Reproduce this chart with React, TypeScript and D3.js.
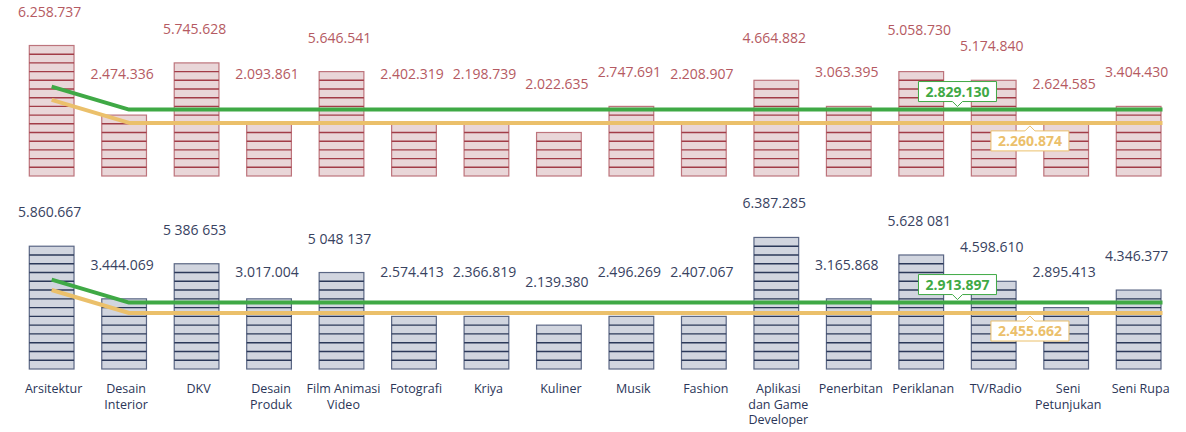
import React from "react";
import * as d3 from "d3";

const categories = [
  "Arsitektur",
  "Desain\nInterior",
  "DKV",
  "Desain\nProduk",
  "Film Animasi\nVideo",
  "Fotografi",
  "Kriya",
  "Kuliner",
  "Musik",
  "Fashion",
  "Aplikasi\ndan Game\nDeveloper",
  "Penerbitan",
  "Periklanan",
  "TV/Radio",
  "Seni\nPetunjukan",
  "Seni Rupa",
];

const topLabels = [
  "6.258.737", "2.474.336", "5.745.628", "2.093.861", "5.646.541", "2.402.319",
  "2.198.739", "2.022.635", "2.747.691", "2.208.907", "4.664.882", "3.063.395",
  "5.058.730", "5.174.840", "2.624.585", "3.404.430",
];
const bottomLabels = [
  "5.860.667", "3.444.069", "5 386 653", "3.017.004", "5 048 137", "2.574.413",
  "2.366.819", "2.139.380", "2.496.269", "2.407.067", "6.387.285", "3.165.868",
  "5.628 081", "4.598.610", "2.895.413", "4.346.377",
];

// number of stacked pictogram cells drawn per bar
const topCells = [15, 7, 13, 6, 12, 6, 6, 5, 8, 6, 11, 8, 12, 11, 6, 8];
const bottomCells = [14, 8, 12, 8, 11, 6, 6, 5, 6, 6, 15, 8, 13, 10, 7, 9];

const topAverage = 2829130;
const topMedian = 2260874;
const bottomAverage = 2913897;
const bottomMedian = 2455662;

const fmt = (v: number) => d3.format(",")(v).replace(/,/g, ".");

const GREEN = "#3fa945";
const YELLOW = "#ebc06b";
const FONT = "'Open Sans', sans-serif";

type Panel = {
  labels: string[];
  cells: number[];
  average: number;
  median: number;
  baseline: number;
  cellH: number;
  lineK: number;
  labelRow: number;
  fill: string;
  edge: string;
  inner: string;
  textColor: string;
  nudge: Record<string, number>;
};

const panels: Panel[] = [
  {
    labels: topLabels,
    cells: topCells,
    average: topAverage,
    median: topMedian,
    baseline: 176,
    cellH: 8.7,
    lineK: 2.7,
    labelRow: 73.5,
    fill: "#e9d6d8",
    edge: "#bd747c",
    inner: "#a23c47",
    textColor: "#b55a62",
    nudge: { Kuliner: 10, "Seni\nPetunjukan": 10, "Aplikasi\ndan Game\nDeveloper": -8, Periklanan: -8 },
  },
  {
    labels: bottomLabels,
    cells: bottomCells,
    average: bottomAverage,
    median: bottomMedian,
    baseline: 369,
    cellH: 8.77,
    lineK: 2.6,
    labelRow: 272,
    fill: "#d1d5df",
    edge: "#5a6684",
    inner: "#2b3859",
    textColor: "#38425f",
    nudge: { Kuliner: 10, "Desain\nProduk": 7 },
  },
];

export default function App() {
  const W = 1186;
  const H = 432;
  const x = d3
    .scaleBand<string>()
    .domain(categories)
    .range([29.3, 1161])
    .paddingInner(0.383)
    .paddingOuter(0);
  const bw = x.bandwidth();
  const cx = (c: string) => (x(c) as number) + bw / 2;
  const lineEnd = (x(categories[categories.length - 1]) as number) + bw + 1.5;

  return (
    <svg
      width={W}
      height={H}
      style={{ position: "absolute", left: 0, top: 0, background: "#fff" }}
      fontFamily={FONT}
    >
      {panels.map((p, pi) => {
        const yCell = d3
          .scaleLinear()
          .domain([0, 1])
          .range([p.baseline, p.baseline - p.cellH]);
        const yVal = d3
          .scaleLinear()
          .domain([0, 1e6])
          .range([p.baseline, p.baseline - p.lineK * p.cellH]);
        const line = d3
          .line<[number, number]>()
          .x((d) => d[0])
          .y((d) => d[1]);
        const mkPts = (v: number): [number, number][] => {
          const y = yVal(v);
          return [
            [cx(categories[0]), y - 23],
            [cx(categories[1]) + 5, y],
            [lineEnd, y],
          ];
        };
        const gY = yVal(p.average);
        const yY = yVal(p.median);
        const gX = (cx(categories[12]) + cx(categories[13])) / 2;
        const yX = (cx(categories[13]) + cx(categories[14])) / 2;
        const boxW = 78;
        const boxH = 20;
        return (
          <g key={pi}>
            {categories.map((c, i) => {
              const n = p.cells[i];
              const x0 = x(c) as number;
              const top = yCell(n);
              return (
                <g key={c}>
                  <rect
                    x={x0}
                    y={top}
                    width={bw}
                    height={p.baseline - top}
                    fill={p.fill}
                    stroke={p.edge}
                    strokeWidth={1.2}
                  />
                  {d3.range(1, n).map((k) => (
                    <line
                      key={k}
                      x1={x0}
                      x2={x0 + bw}
                      y1={yCell(k)}
                      y2={yCell(k)}
                      stroke={p.inner}
                      strokeWidth={1.4}
                    />
                  ))}
                </g>
              );
            })}
            <path d={line(mkPts(p.average)) || ""} fill="none" stroke={GREEN} strokeWidth={4} strokeLinejoin="round" />
            <path d={line(mkPts(p.median)) || ""} fill="none" stroke={YELLOW} strokeWidth={4} strokeLinejoin="round" />
            {/* average callout (above) */}
            <g>
              <path
                d={`M${gX - boxW / 2},${gY - 28} h${boxW} v${boxH} H${gX + 5} l-5,5 l-5,-5 H${gX - boxW / 2} Z`}
                fill="#fff"
                stroke={GREEN}
                strokeWidth={1}
              />
              <text
                x={gX}
                y={gY - 13}
                textAnchor="middle"
                fontSize={14}
                fontWeight={700}
                fill={GREEN}
              >
                {fmt(p.average)}
              </text>
            </g>
            {/* median callout (below) */}
            <g>
              <path
                d={`M${yX - boxW / 2},${yY + 8} H${yX - 5} l5,-5 l5,5 H${yX + boxW / 2} v${boxH} h${-boxW} Z`}
                fill="#fff"
                stroke={YELLOW}
                strokeWidth={1}
              />
              <text
                x={yX}
                y={yY + 23}
                textAnchor="middle"
                fontSize={14}
                fontWeight={700}
                fill={YELLOW}
              >
                {fmt(p.median)}
              </text>
            </g>
            {categories.map((c, i) => {
              const top = yCell(p.cells[i]);
              const cy = Math.min(top - 34, p.labelRow) + (p.nudge[c] || 0);
              return (
                <text
                  key={"l" + c}
                  x={cx(c) - 2}
                  y={cy + 5}
                  textAnchor="middle"
                  fontSize={14}
                  fill={p.textColor}
                >
                  {p.labels[i]}
                </text>
              );
            })}
          </g>
        );
      })}
      {categories.map((c) => (
        <text
          key={"c" + c}
          x={cx(c) + 2}
          textAnchor="middle"
          fontSize={12.5}
          fill="#2b3658"
        >
          {c.split("\n").map((s, j) => (
            <tspan key={j} x={cx(c) + 2} y={393 + j * 15.5}>
              {s}
            </tspan>
          ))}
        </text>
      ))}
    </svg>
  );
}
